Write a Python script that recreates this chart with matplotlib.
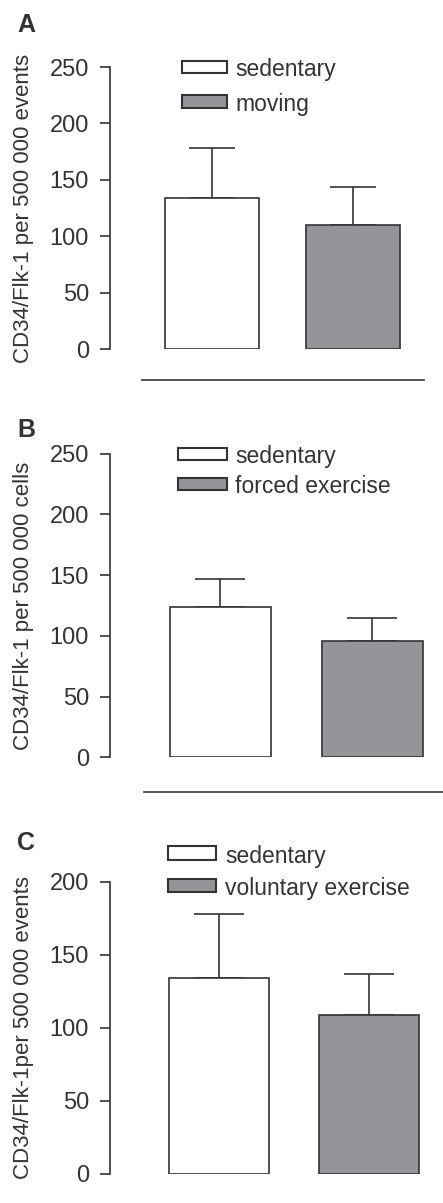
import matplotlib
matplotlib.use('Agg')
import matplotlib.pyplot as plt
from matplotlib.patches import Rectangle
from matplotlib.lines import Line2D

plt.rcParams['font.family'] = ['Liberation Sans', 'DejaVu Sans']

# data
groups = [0, 1]
a_means = [134, 110]
a_err = [44, 34]
a_labels = ['sedentary', 'moving']
b_means = [124, 96]
b_err = [23, 19]
b_labels = ['sedentary', 'forced exercise']
c_means = [134, 109]
c_err = [44, 28]
c_labels = ['sedentary', 'voluntary exercise']

W, H = 443, 1203
INK = '#333333'
GRAY = '#939598'
FILLS = ['white', GRAY]

fig = plt.figure(figsize=(W / 100, H / 100), dpi=100)


def fx(x):
    return x / W


def fy(y):
    return 1 - y / H


def panel(top, bottom, spacing, ymax, yticks, means, err, ylabel):
    # axes placed in pixel units of the original figure
    xmin, xmax = -0.725, 1.5
    ax = fig.add_axes([fx(110), fy(bottom), spacing * (xmax - xmin) / W, (bottom - top) / H])
    ax.bar(groups, means, width=0.667, color=FILLS, edgecolor=INK, linewidth=1.2, zorder=2)
    ax.errorbar(groups, means, yerr=[[0, 0], err], fmt='none', ecolor=INK,
                elinewidth=1.2, capthick=1.2, capsize=spacing * 0.165 * 0.72, zorder=1)
    ax.set_xlim(xmin, xmax)
    ax.set_ylim(0, ymax)
    ax.set_yticks(yticks)
    ax.set_xticks([])
    for s in ['top', 'right', 'bottom']:
        ax.spines[s].set_visible(False)
    ax.spines['left'].set_color(INK)
    ax.spines['left'].set_linewidth(1.2)
    ax.tick_params(axis='y', length=7.2, width=1.2, color=INK, pad=8,
                   labelsize=17, labelcolor=INK)
    ax.patch.set_visible(False)
    fig.text(fx(24), fy((top + bottom) / 2), ylabel, rotation=90, ha='center',
             va='center', fontsize=16, color=INK)
    return ax


def legend(x0, x1, boxes, tx, labels):
    for (y0, y1), fc, lab in zip(boxes, FILLS, labels):
        fig.add_artist(Rectangle((fx(x0), fy(y1)), (x1 - x0) / W, (y1 - y0) / H,
                                 transform=fig.transFigure, facecolor=fc,
                                 edgecolor=INK, linewidth=1.5))
        fig.text(fx(tx), fy(y1 + 3), lab, ha='left', va='baseline', fontsize=16.5, color=INK)


# panel A
panel(67, 349, 141, 250, [0, 50, 100, 150, 200, 250], a_means, a_err,
      'CD34/Flk-1 per 500 000 events')
legend(182, 227, [(61, 73), (95, 108)], 235, a_labels)
fig.text(fx(26), fy(25), 'A', ha='center', va='center', fontsize=18,
         fontweight='bold', color=INK)
fig.add_artist(Line2D([fx(142), fx(424)], [fy(380), fy(380)], color=INK, linewidth=1.2))

# panel B
panel(453.7, 757.3, 152, 250, [0, 50, 100, 150, 200, 250], b_means, b_err,
      'CD34/Flk-1 per 500 000 cells')
legend(178, 227, [(448, 460), (478, 490)], 235, b_labels)
fig.text(fx(26), fy(430), 'B', ha='center', va='center', fontsize=18,
         fontweight='bold', color=INK)
fig.add_artist(Line2D([fx(144), fx(443)], [fy(792), fy(792)], color=INK, linewidth=1.2))

# panel C
panel(881.7, 1174, 150, 200, [0, 50, 100, 150, 200], c_means, c_err,
      'CD34/Flk-1per 500 000 events')
legend(168, 216, [(846, 860), (879, 892)], 225, c_labels)
fig.text(fx(26), fy(843), 'C', ha='center', va='center', fontsize=18,
         fontweight='bold', color=INK)

plt.savefig('out.png', dpi=100)
